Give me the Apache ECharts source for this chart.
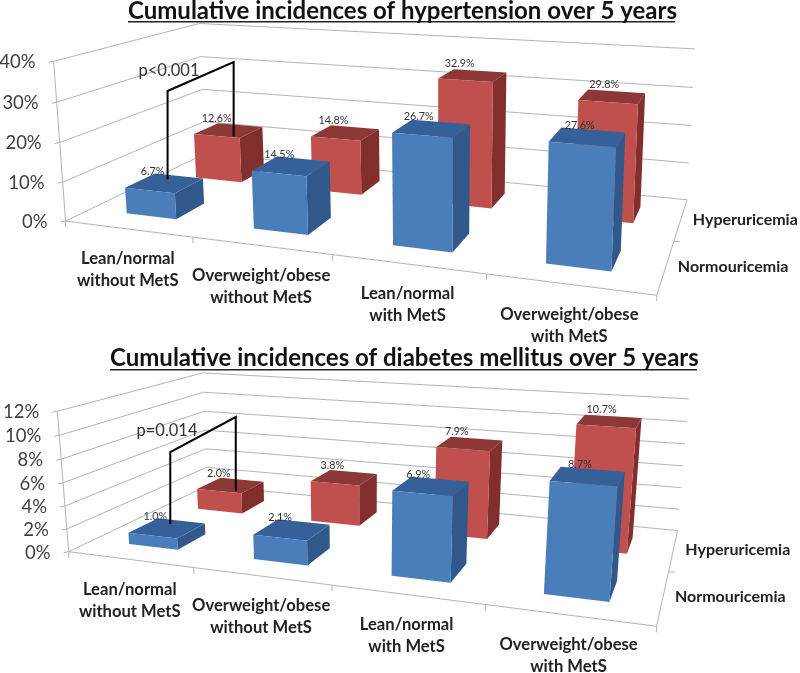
<!DOCTYPE html>
<html lang="en">
<head>
    <meta charset="UTF-8">
    <title>Cumulative incidences over 5 years</title>
    <style>
        body { margin: 0; background: #fff; }
        #container { width: 800px; height: 673px; }
    </style>
    <script src="https://cdn.jsdelivr.net/npm/echarts@6/dist/echarts.min.js"></script>
</head>
<body>
    <div id="container"></div>
    <script>
        var categories = ['Lean/normal\nwithout MetS', 'Overweight/obese\nwithout MetS', 'Lean/normal\nwith MetS', 'Overweight/obese\nwith MetS'];
        var depthNames = ['Normouricemia', 'Hyperuricemia'];

        var htnTicks = [0, 10, 20, 30, 40];
        var htnNormo = [6.7, 14.5, 26.7, 27.6];
        var htnHyper = [12.6, 14.8, 32.9, 29.8];

        var dmTicks = [0, 2, 4, 6, 8, 10, 12];
        var dmNormo = [1.0, 2.1, 6.9, 8.7];
        var dmHyper = [2.0, 3.8, 7.9, 10.7];

        var FONT = 'Lato, "Open Sans", sans-serif';
        var GRAY = '#b4b4b4';

        // camera calibration: [category, depth, value share 0..1, screen x, screen y]
        var htnAnchors = [
            [0, 0, 0, 66, 219], [4, 0, 0, 657, 295], [4, 2, 0, 688, 199], [0, 2, 0, 205, 155],
            [0, 0, 1, 53, 62], [4, 2, 1, 695, 49], [0, 2, 1, 200, 23],
            [1, 0, 0, 193, 237], [2, 0, 0, 332, 257], [3, 0, 0, 487, 275], [4, 1, 0, 673, 240],
            [0, 0, 0.5, 60, 142], [4, 2, 0.5, 690, 126], [0, 2, 0.5, 202, 89]
        ];
        var dmAnchors = [
            [0, 0, 0, 69, 551], [4, 0, 0, 657, 626], [4, 2, 0, 678, 530], [0, 2, 0, 207, 486],
            [0, 0, 1, 57, 411], [4, 2, 1, 689, 399], [0, 2, 1, 203, 373],
            [1, 0, 0, 194, 568], [2, 0, 0, 332, 585], [3, 0, 0, 485, 605], [4, 1, 0, 668, 572],
            [0, 0, 0.5, 63, 483], [4, 2, 0.5, 683, 466], [0, 2, 0.5, 205, 430]
        ];

        // least squares fit of a 3x4 projection matrix
        function fitCamera(anchors) {
            var n = 11, A = [], i, j, k;
            for (i = 0; i < n; i++) { A.push(new Array(n + 1).fill(0)); }
            anchors.forEach(function (a) {
                var X = a[0] / 4, Y = a[1] / 2, Z = a[2], u = a[3], v = a[4];
                var rows = [
                    [X, Y, Z, 1, 0, 0, 0, 0, -u * X, -u * Y, -u * Z, u],
                    [0, 0, 0, 0, X, Y, Z, 1, -v * X, -v * Y, -v * Z, v]
                ];
                rows.forEach(function (r) {
                    for (i = 0; i < n; i++) {
                        for (j = 0; j <= n; j++) { A[i][j] += r[i] * r[j]; }
                    }
                });
            });
            for (i = 0; i < n; i++) {
                var best = i;
                for (k = i + 1; k < n; k++) { if (Math.abs(A[k][i]) > Math.abs(A[best][i])) best = k; }
                var tmp = A[i]; A[i] = A[best]; A[best] = tmp;
                for (k = 0; k < n; k++) {
                    if (k === i) continue;
                    var f = A[k][i] / A[i][i];
                    for (j = i; j <= n; j++) { A[k][j] -= f * A[i][j]; }
                }
            }
            var p = [];
            for (i = 0; i < n; i++) { p.push(A[i][n] / A[i][i]); }
            return function (c, d, share) {
                var X = c / 4, Y = d / 2, Z = share;
                var w = p[8] * X + p[9] * Y + p[10] * Z + 1;
                return [
                    (p[0] * X + p[1] * Y + p[2] * Z + p[3]) / w,
                    (p[4] * X + p[5] * Y + p[6] * Z + p[7]) / w
                ];
            };
        }

        var BAR_LEFT = 0.3, BAR_RIGHT = 0.7, BAR_FRONT = 0.3, BAR_BACK = 0.7;
        var LABEL_SHIFT = [-12, -12, -13, -8]; // value labels sit left of the bar centre
        var blueFaces = { front: '#4a7ebb', top: '#36609a', side: '#30588a' };
        var redFaces = { front: '#c0504d', top: '#8c3836', side: '#822e2c' };

        // hidden grid: its axes turn values into positions, the camera takes it from there
        var GRID = { w: 400, h: 200 };

        function makePanel(index, max, ticks, normo, hyper, anchors, cfg) {
            var project = fitCamera(anchors);
            var grid = { left: 100, top: cfg.gridTop, width: GRID.w, height: GRID.h, show: false };

            function at(api, c, d, v) {
                var pt = api.coord([c, v]);
                return project(
                    (pt[0] - grid.left) / grid.width * 4,
                    d,
                    (grid.top + grid.height - pt[1]) / grid.height
                );
            }

            function text(x, y, str, size, weight, color, align, lineHeight) {
                return {
                    type: 'text',
                    style: {
                        x: x, y: y, text: str, fontFamily: FONT, fontSize: size, fontWeight: weight,
                        fill: color, textAlign: align, textVerticalAlign: 'middle', lineHeight: lineHeight
                    }
                };
            }

            function line(a, b, color, width) {
                return {
                    type: 'line',
                    shape: { x1: a[0], y1: a[1], x2: b[0], y2: b[1] },
                    style: { stroke: color || GRAY, lineWidth: width || 1 }
                };
            }

            function renderTick(params, api) {
                var v = api.value(0);
                var f = at(api, 0, 0, v), b = at(api, 0, 2, v), r = at(api, 4, 2, v);
                return {
                    type: 'group',
                    children: [
                        line(f, b), line(b, r),
                        line([f[0] - 5, f[1] + 1], f),
                        text(f[0] - 18, f[1] + 1, v + '%', 18.5, 'normal', '#404040', 'right')
                    ]
                };
            }

            function renderFrame(params, api) {
                var fl = at(api, 0, 0, 0), fr = at(api, 4, 0, 0), br = at(api, 4, 2, 0);
                return {
                    type: 'group',
                    children: [line(fl, at(api, 0, 0, max)), line(fl, fr), line(fr, br), line(fl, [fl[0], fl[1] + 6])]
                };
            }

            function renderCategory(params, api) {
                var c = api.value(0);
                var t = at(api, c + 1, 0, 0), mid = at(api, c + 0.5, 0, 0);
                return {
                    type: 'group',
                    children: [
                        line(t, [t[0], t[1] + 6]),
                        text(mid[0], mid[1] + 41, categories[c], 16.6, 'bold', '#222', 'center', 22)
                    ]
                };
            }

            function renderDepth(params, api) {
                var d = api.value(0);
                var t = at(api, 4, d + 1, 0), mid = at(api, 4, d + 0.5, 0);
                var kids = [text(mid[0] + 12, mid[1], depthNames[d], 16, 'bold', '#222', 'left')];
                if (d === 0) { kids.push(line(t, [t[0] + 6, t[1]])); }
                return { type: 'group', children: kids };
            }

            function barRenderer(depth, faces) {
                return function (params, api) {
                    var c = api.value(0), v = api.value(1);
                    var d0 = depth + BAR_FRONT, d1 = depth + BAR_BACK;
                    var c0 = c + BAR_LEFT, c1 = c + BAR_RIGHT;
                    var fl0 = at(api, c0, d0, 0), fr0 = at(api, c1, d0, 0), br0 = at(api, c1, d1, 0);
                    var fl1 = at(api, c0, d0, v), fr1 = at(api, c1, d0, v), br1 = at(api, c1, d1, v), bl1 = at(api, c0, d1, v);
                    var lab = at(api, c + 0.5, depth + 0.5, v);
                    return {
                        type: 'group',
                        children: [
                            { type: 'polygon', shape: { points: [fr0, br0, br1, fr1] }, style: { fill: faces.side } },
                            { type: 'polygon', shape: { points: [fl1, fr1, br1, bl1] }, style: { fill: faces.top } },
                            { type: 'polygon', shape: { points: [fl0, fr0, fr1, fl1] }, style: { fill: faces.front } },
                            text(lab[0] + LABEL_SHIFT[c], lab[1] - 12, v.toFixed(1) + '%', 10.8, 'normal', '#333', 'center')
                        ]
                    };
                };
            }

            function renderBracket(params, api) {
                var a = at(api, 0.5, 0.5, normo[0]), b = at(api, 0.5, 1.5, hyper[0]);
                var x0 = a[0] + 3, x1 = b[0] + 5;
                return {
                    type: 'group',
                    children: [
                        {
                            type: 'polyline',
                            shape: { points: [[x0, a[1] - 4], [x0, cfg.bracketY[0]], [x1, cfg.bracketY[1]], [x1, b[1] + 6]] },
                            style: { stroke: '#000', lineWidth: 2, fill: null }
                        },
                        text(cfg.pText[0], cfg.pText[1], cfg.pLabel, 16.5, 'normal', '#333', 'center')
                    ]
                };
            }

            function custom(name, data, renderItem) {
                return {
                    name: name, type: 'custom', xAxisIndex: index, yAxisIndex: index,
                    data: data, renderItem: renderItem, silent: true, animation: false
                };
            }

            function pairs(values) {
                return values.map(function (v, i) { return [i, v]; });
            }

            return {
                grid: grid,
                xAxis: { type: 'value', gridIndex: index, min: 0, max: 4, show: false },
                yAxis: { type: 'value', gridIndex: index, min: 0, max: max, show: false },
                series: [
                    custom('ticks', ticks.map(function (t) { return [t]; }), renderTick),
                    custom('frame', [[0]], renderFrame),
                    custom('categories', categories.map(function (n, i) { return [i]; }), renderCategory),
                    custom('depths', depthNames.map(function (n, i) { return [i]; }), renderDepth),
                    custom(depthNames[1], pairs(hyper), barRenderer(1, redFaces)),
                    custom(depthNames[0], pairs(normo), barRenderer(0, blueFaces)),
                    custom('bracket', [[0]], renderBracket)
                ]
            };
        }

        var htnPanel = makePanel(0, 40, htnTicks, htnNormo, htnHyper, htnAnchors, {
            gridTop: 50, bracketY: [91, 62], pText: [169, 71], pLabel: 'p<0.001'
        });
        var dmPanel = makePanel(1, 12, dmTicks, dmNormo, dmHyper, dmAnchors, {
            gridTop: 400, bracketY: [452, 417], pText: [167, 431], pLabel: 'p=0.014'
        });

        var titleStyle = { fontFamily: FONT, fontSize: 24, fontWeight: 'bold', color: '#111' };

        var chart = echarts.init(document.getElementById('container'));
        chart.setOption({
            backgroundColor: '#fff',
            animation: false,
            title: [
                { text: 'Cumulative incidences of hypertension over 5 years', left: 128, top: -1, padding: 0, textStyle: titleStyle },
                { text: 'Cumulative incidences of diabetes mellitus over 5 years', left: 110, top: 346, padding: 0, textStyle: titleStyle }
            ],
            graphic: [
                { type: 'rect', shape: { x: 128, y: 21, width: 547, height: 1.5 }, style: { fill: '#222' } },
                { type: 'rect', shape: { x: 110, y: 369, width: 587, height: 1.5 }, style: { fill: '#222' } }
            ],
            grid: [htnPanel.grid, dmPanel.grid],
            xAxis: [htnPanel.xAxis, dmPanel.xAxis],
            yAxis: [htnPanel.yAxis, dmPanel.yAxis],
            series: htnPanel.series.concat(dmPanel.series)
        });
    </script>
</body>
</html>
